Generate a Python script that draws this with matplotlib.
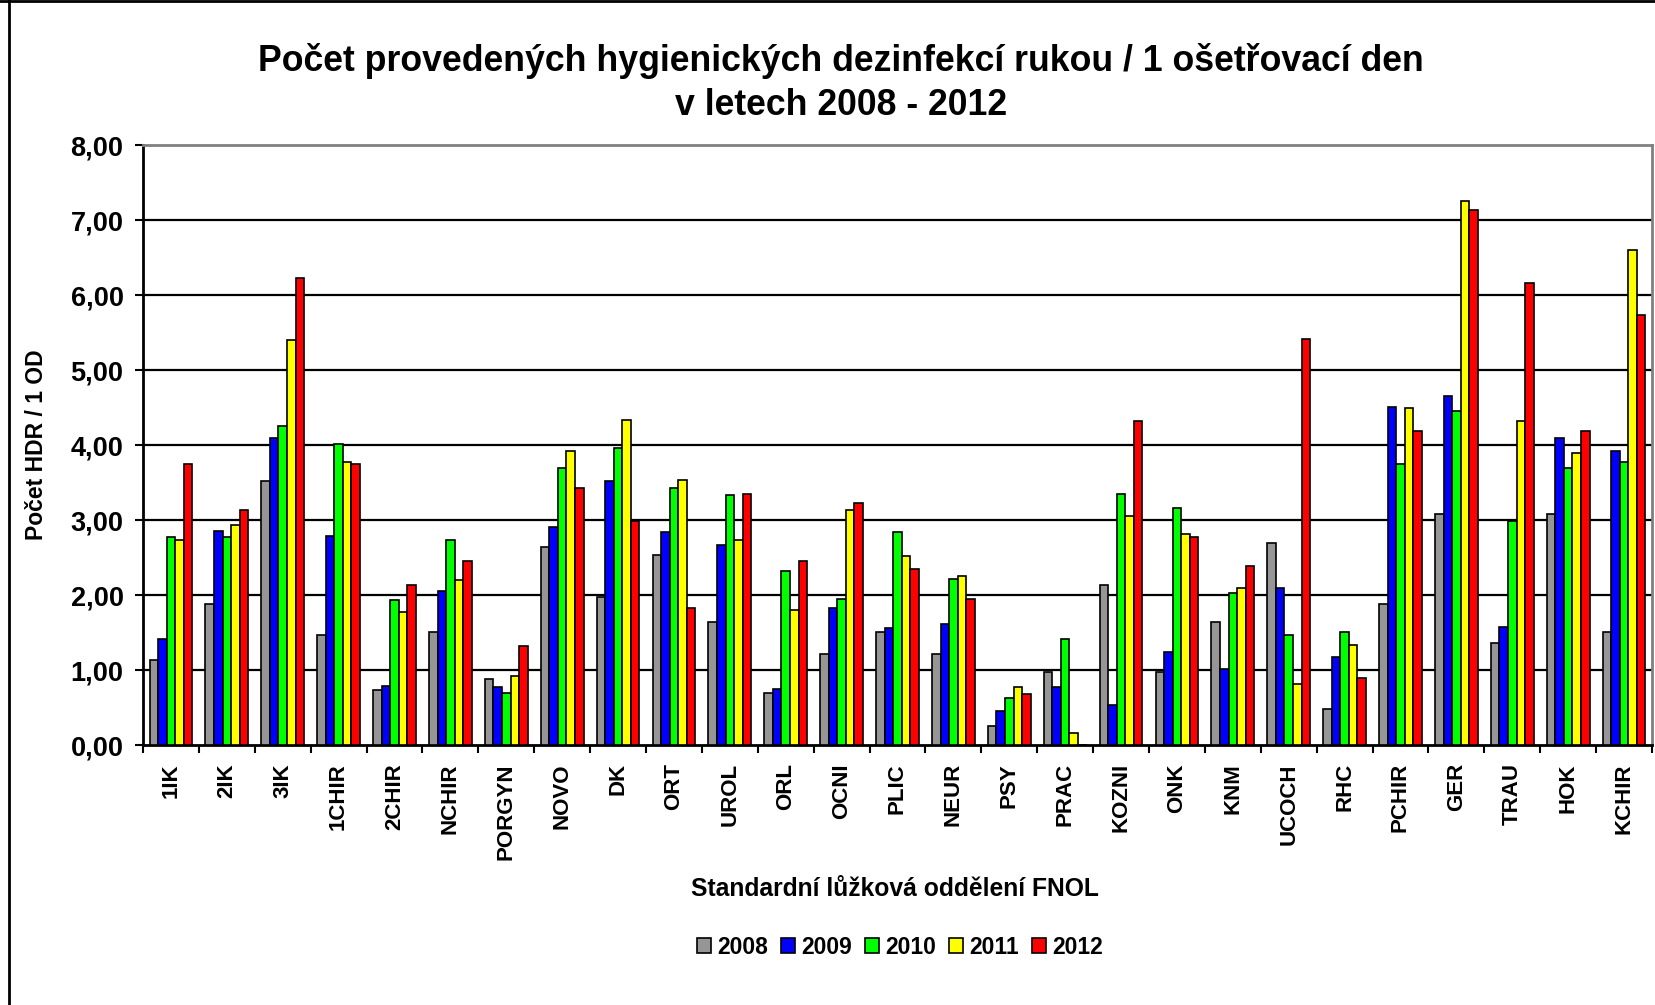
import numpy as np
import matplotlib
matplotlib.use('Agg')
import matplotlib.pyplot as plt
from matplotlib.patches import Patch
from matplotlib.lines import Line2D

plt.rcParams['font.family'] = ['Liberation Sans', 'DejaVu Sans']
plt.rcParams['font.weight'] = 'bold'

# Departments (x axis)
departments = ['1IK', '2IK', '3IK', '1CHIR', '2CHIR', 'NCHIR', 'PORGYN', 'NOVO', 'DK',
               'ORT', 'UROL', 'ORL', 'OCNI', 'PLIC', 'NEUR', 'PSY', 'PRAC', 'KOZNI',
               'ONK', 'KNM', 'UCOCH', 'RHC', 'PCHIR', 'GER', 'TRAU', 'HOK', 'KCHIR']

years = ['2008', '2009', '2010', '2011', '2012']

# Hand disinfections per 1 care day
hdr_2008 = [1.14, 1.88, 3.52, 1.47, 0.73, 1.51, 0.88, 2.64, 1.98, 2.54, 1.64, 0.70, 1.22, 1.51,
            1.22, 0.26, 0.97, 2.13, 0.97, 1.64, 2.70, 0.48, 1.88, 3.08, 1.36, 3.08, 1.51]
hdr_2009 = [1.41, 2.86, 4.09, 2.79, 0.79, 2.05, 0.77, 2.91, 3.52, 2.84, 2.67, 0.75, 1.83, 1.56,
            1.61, 0.46, 0.77, 0.53, 1.24, 1.02, 2.10, 1.17, 4.51, 4.66, 1.58, 4.09, 3.92]
hdr_2010 = [2.77, 2.77, 4.26, 4.02, 1.93, 2.74, 0.70, 3.69, 3.96, 3.43, 3.33, 2.32, 1.95, 2.84,
            2.22, 0.63, 1.41, 3.35, 3.16, 2.03, 1.47, 1.51, 3.75, 4.46, 2.99, 3.69, 3.77]
hdr_2011 = [2.74, 2.93, 5.40, 3.77, 1.78, 2.20, 0.92, 3.92, 4.34, 3.54, 2.74, 1.80, 3.14, 2.52,
            2.25, 0.77, 0.16, 3.06, 2.81, 2.10, 0.82, 1.34, 4.49, 7.26, 4.32, 3.90, 6.60]
hdr_2012 = [3.75, 3.14, 6.23, 3.75, 2.13, 2.45, 1.32, 3.43, 2.99, 1.83, 3.35, 2.45, 3.23, 2.35,
            1.95, 0.68, 0.00, 4.32, 2.77, 2.39, 5.41, 0.90, 4.19, 7.14, 6.16, 4.19, 5.73]

series = [hdr_2008, hdr_2009, hdr_2010, hdr_2011, hdr_2012]
colors = ['#969696', '#0000FF', '#00FF00', '#FFFF00', '#FF0000']

W, H = 1656, 1005
fig = plt.figure(figsize=(W / 100, H / 100), dpi=100)
ax = fig.add_axes([143 / W, (H - 745) / H, (1652 - 143) / W, 600 / H])

x = np.arange(len(departments))
bar_w = 0.153
for j, (vals, col) in enumerate(zip(series, colors)):
    ax.bar(x + (j - 2) * bar_w, vals, width=bar_w, color=col,
           edgecolor='black', linewidth=1.2, zorder=3, label=years[j])

# axes styling
ax.set_xlim(-0.5, len(departments) - 0.5)
ax.set_ylim(0, 8)
ax.set_yticks(np.arange(0, 9, 1))
ax.set_yticklabels([f'{v:.2f}'.replace('.', ',') for v in range(9)], fontsize=19.5, fontweight='bold')
for v in range(1, 8):
    ax.axhline(v, color='black', linewidth=1.6, zorder=1)

ax.set_xticks(np.arange(-0.5, len(departments)), minor=False)
ax.set_xticklabels([])
ax.set_xticks(x, minor=True)
ax.set_xticklabels(departments, minor=True, rotation=90, fontsize=16, fontweight='bold')
ax.tick_params(axis='x', which='major', direction='out', length=6, width=1.5)
ax.tick_params(axis='x', which='minor', length=0, pad=13)
ax.tick_params(axis='y', direction='out', length=6, width=1.5, pad=8)

for side in ['left', 'bottom']:
    ax.spines[side].set_color('black')
    ax.spines[side].set_linewidth(2)
for side in ['top', 'right']:
    ax.spines[side].set_color('#808080')
    ax.spines[side].set_linewidth(2)

fig.text(37 / W, 0.5 * ((H - 145) + (H - 745)) / H, 'Počet HDR / 1 OD', rotation=90,
         ha='center', va='center', fontsize=16.5, fontweight='bold')

fig.text(895 / W, 1 - 889 / H, 'Standardní lůžková oddělení FNOL', ha='center', va='center',
         fontsize=17.7, fontweight='bold')
fig.text(841 / W, 1 - 83 / H, 'Počet provedených hygienických dezinfekcí rukou / 1 ošetřovací den\nv letech 2008 - 2012',
         ha='center', va='center', fontsize=25.7, fontweight='bold', linespacing=1.32)

handles = [Patch(facecolor=c, edgecolor='black', linewidth=1.2) for c in colors]
fig.legend(handles, years, loc='center', bbox_to_anchor=(900 / W, 1 - 947 / H), ncol=5,
           frameon=False, prop={'size': 16.5, 'weight': 'bold'},
           handlelength=0.6, handleheight=0.6, handletextpad=0.3, columnspacing=0.55)

# outer chart border (left and top edges visible)
fig.add_artist(Line2D([9 / W, 9 / W], [0, 1], color='black', linewidth=2, transform=fig.transFigure))
fig.add_artist(Line2D([0, 1], [1 - 1.5 / H, 1 - 1.5 / H], color='black', linewidth=2, transform=fig.transFigure))

fig.savefig('out.png', dpi=100)
